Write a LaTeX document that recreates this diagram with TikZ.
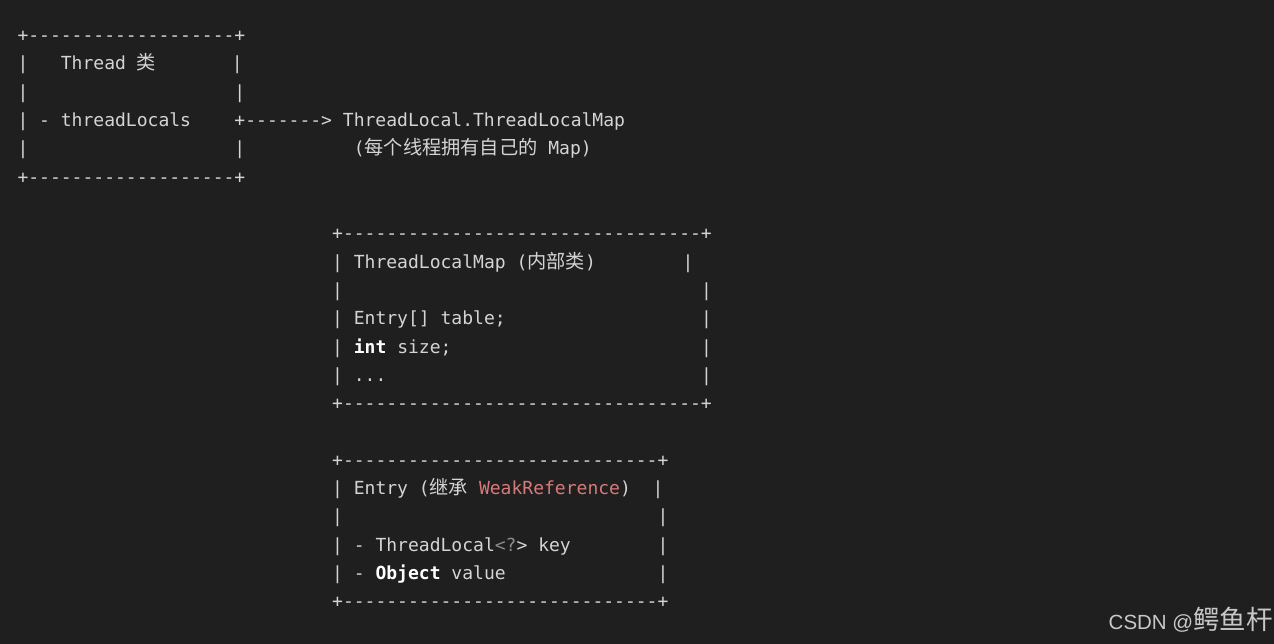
\documentclass[tikz,border=0pt]{standalone}
\usepackage{fontspec}
\setmonofont{DejaVu Sans Mono}
\newfontfamily\cjkf{Noto Sans CJK SC}
\newfontfamily\wmlatin{Liberation Sans}
\definecolor{bg}{HTML}{1F1F1F}
\definecolor{fg}{HTML}{D4D4D4}
\definecolor{kw}{HTML}{FFFFFF}
\definecolor{weak}{RGB}{214,122,122}
\definecolor{dim}{HTML}{8C8C8C}
\definecolor{wm}{HTML}{C8C8C8}
\newlength\cw
\setlength\cw{10.85pt}
\newcommand\sk[1]{\hspace*{#1\cw}}
\newcommand\cj[1]{{\cjkf\fontsize{19.2pt}{28pt}\selectfont #1}}
\newcommand\kwd[1]{{\bfseries\color{kw}#1}}
\tikzset{
  codeline/.style={anchor=base west, inner sep=0pt, outer sep=0pt, text=fg,
    font=\ttfamily\fontsize{18.02pt}{28.3pt}\selectfont},
}
\newcommand\col[1]{17.5+#1*10.85}
\newcommand\rowy[1]{41.7+#1*28.3}
\begin{document}
\begin{tikzpicture}[x=1pt,y=-1pt]
\fill[bg] (0,0) rectangle (1274,644);
\useasboundingbox (0,0) rectangle (1274,644);
% Thread box
\node[codeline] (t0) at ({\col{0}},{\rowy{0}}) {+-------------------+};
\node[codeline] (t1) at ({\col{0}},{\rowy{1}}) {|\sk{3}Thread\sk{1}\cj{类}\sk{7}|};
\node[codeline] (t2) at ({\col{0}},{\rowy{2}}) {|\sk{19}|};
\node[codeline] (t3) at ({\col{0}},{\rowy{3}}) {|\sk{1}-\sk{1}threadLocals\sk{4}+-------{}>\sk{1}ThreadLocal.ThreadLocalMap};
\node[codeline] (t4) at ({\col{0}},{\rowy{4}}) {|\sk{19}|\sk{10}(\cj{每个线程拥有自己的}\sk{1}Map)};
\node[codeline] (t5) at ({\col{0}},{\rowy{5}}) {+-------------------+};
% ThreadLocalMap box
\node[codeline] (m0) at ({\col{29}},{\rowy{7}}) {+---------------------------------+};
\node[codeline] (m1) at ({\col{29}},{\rowy{8}}) {|\sk{1}ThreadLocalMap\sk{1}(\cj{内部类})\sk{8}|};
\node[codeline] (m2) at ({\col{29}},{\rowy{9}}) {|\sk{33}|};
\node[codeline] (m3) at ({\col{29}},{\rowy{10}}) {|\sk{1}Entry[]\sk{1}table;\sk{18}|};
\node[codeline] (m4) at ({\col{29}},{\rowy{11}}) {|\sk{1}\kwd{int}\sk{1}size;\sk{23}|};
\node[codeline] (m5) at ({\col{29}},{\rowy{12}}) {|\sk{1}...\sk{29}|};
\node[codeline] (m6) at ({\col{29}},{\rowy{13}}) {+---------------------------------+};
% Entry box
\node[codeline] (e0) at ({\col{29}},{\rowy{15}}) {+-----------------------------+};
\node[codeline] (e1) at ({\col{29}},{\rowy{16}}) {|\sk{1}Entry\sk{1}(\cj{继承}\sk{1}{\color{weak}WeakReference})\sk{2}|};
\node[codeline] (e2) at ({\col{29}},{\rowy{17}}) {|\sk{29}|};
\node[codeline] (e3) at ({\col{29}},{\rowy{18}}) {|\sk{1}-\sk{1}ThreadLocal{\color{dim}<?}>\sk{1}key\sk{8}|};
\node[codeline] (e4) at ({\col{29}},{\rowy{19}}) {|\sk{1}-\sk{1}\kwd{Object}\sk{1}value\sk{14}|};
\node[codeline] (e5) at ({\col{29}},{\rowy{20}}) {+-----------------------------+};
% watermark
\node[anchor=base east, inner sep=0pt, text=wm] (wm) at (1273,629)
  {{\wmlatin\fontsize{20.5pt}{22pt}\selectfont CSDN @}{\cjkf\fontsize{26.5pt}{28pt}\selectfont 鳄鱼杆}};
\end{tikzpicture}
\end{document}
